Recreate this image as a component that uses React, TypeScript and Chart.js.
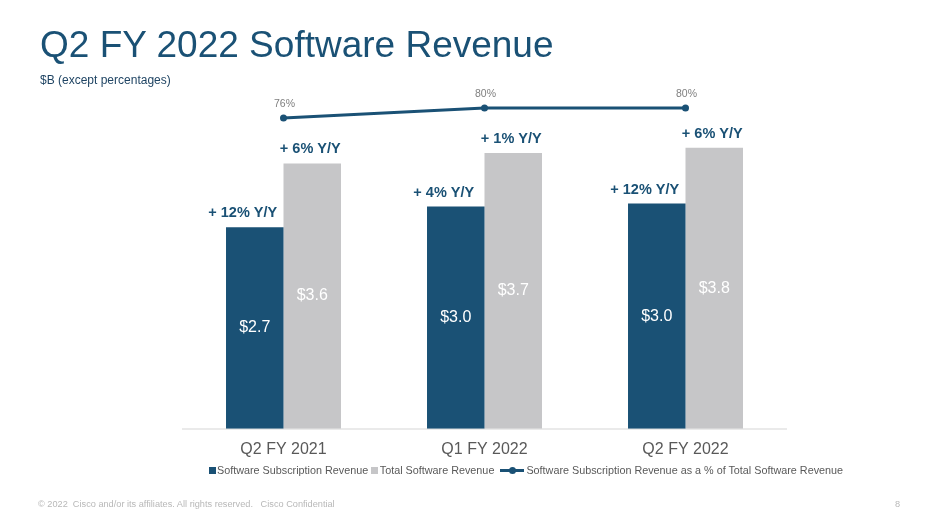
import React, { useEffect, useRef } from "react";
import { Chart, registerables } from "chart.js";

Chart.register(...registerables);

const categories = ["Q2 FY 2021", "Q1 FY 2022", "Q2 FY 2022"];
const subscriptionRevenue = [2.71, 2.99, 3.03];
const totalSoftwareRevenue = [3.57, 3.71, 3.78];
const subscriptionShare = [76, 80, 80];
const subscriptionGrowth = ["+ 12% Y/Y", "+ 4% Y/Y", "+ 12% Y/Y"];
const totalGrowth = ["+ 6% Y/Y", "+ 1% Y/Y", "+ 6% Y/Y"];

const seriesNames = [
  "Software Subscription Revenue",
  "Total Software Revenue",
  "Software Subscription Revenue as a % of Total Software Revenue",
];

const FONT = '"Liberation Sans", Arial, Helvetica, sans-serif';
const DARK = "#1A5175";
const GRAY = "#C6C6C8";
const TEXT_GRAY = "#595959";

const labelPlugin = {
  id: "customLabels",
  afterDatasetsDraw(chart: any) {
    const ctx = chart.ctx;
    ctx.save();
    ctx.textAlign = "center";
    ctx.textBaseline = "middle";
    [1, 2].forEach((di) => {
      const meta = chart.getDatasetMeta(di);
      const values = chart.data.datasets[di].data as number[];
      const growth = di === 1 ? subscriptionGrowth : totalGrowth;
      meta.data.forEach((bar: any, i: number) => {
        ctx.font = `16px ${FONT}`;
        ctx.fillStyle = "#FFFFFF";
        ctx.fillText("$" + values[i].toFixed(1), bar.x, (bar.y + bar.base) / 2);
        ctx.font = `bold 14.5px ${FONT}`;
        ctx.fillStyle = DARK;
        const dx = di === 1 ? -12 : -2;
        ctx.fillText(growth[i], bar.x + dx, bar.y - 14);
      });
    });
    const lineMeta = chart.getDatasetMeta(0);
    lineMeta.data.forEach((pt: any, i: number) => {
      ctx.font = `10.5px ${FONT}`;
      ctx.fillStyle = "#7F7F7F";
      ctx.fillText(subscriptionShare[i] + "%", pt.x + 1, pt.y - 14);
    });
    ctx.restore();
  },
};

export default function App() {
  const canvasRef = useRef<HTMLCanvasElement | null>(null);

  useEffect(() => {
    if (!canvasRef.current) return;
    const chart = new Chart(canvasRef.current, {
      type: "bar",
      data: {
        labels: categories,
        datasets: [
          {
            type: "line",
            label: seriesNames[2],
            data: subscriptionShare,
            yAxisID: "y1",
            borderColor: DARK,
            backgroundColor: DARK,
            borderWidth: 3,
            pointRadius: 3.5,
            pointBackgroundColor: DARK,
            pointBorderWidth: 0,
            tension: 0,
            order: 0,
          } as any,
          {
            type: "bar",
            label: seriesNames[0],
            data: subscriptionRevenue,
            yAxisID: "y",
            backgroundColor: DARK,
            borderWidth: 0,
            categoryPercentage: 0.572,
            barPercentage: 1,
            order: 1,
          },
          {
            type: "bar",
            label: seriesNames[1],
            data: totalSoftwareRevenue,
            yAxisID: "y",
            backgroundColor: GRAY,
            borderWidth: 0,
            categoryPercentage: 0.572,
            barPercentage: 1,
            order: 1,
          },
        ],
      },
      options: {
        responsive: false,
        animation: false,
        devicePixelRatio: 1,
        layout: { padding: { left: 183, right: 157, top: 80, bottom: 0 } },
        plugins: {
          legend: { display: false },
          tooltip: { enabled: false },
          title: { display: false },
        },
        scales: {
          x: {
            type: "category",
            offset: true,
            grid: { display: false, drawTicks: false },
            border: { display: true, color: "#EAEAEA", width: 2 },
            ticks: {
              color: TEXT_GRAY,
              font: { size: 16, family: FONT },
              padding: 11,
              maxRotation: 0,
            },
            afterFit: (scale: any) => {
              scale.height = 99.3;
            },
          },
          y: {
            display: false,
            min: 0,
            max: 4.693,
          },
          y1: {
            display: false,
            min: -48.4,
            max: 91.2,
          },
        },
      },
      plugins: [labelPlugin],
    });
    return () => chart.destroy();
  }, []);

  const legendText: React.CSSProperties = { color: TEXT_GRAY };

  return (
    <div
      style={{
        position: "absolute",
        left: 0,
        top: 0,
        width: 943,
        height: 528,
        background: "#FFFFFF",
        fontFamily: FONT,
        overflow: "hidden",
      }}
    >
      <canvas
        ref={canvasRef}
        width={943}
        height={528}
        style={{ position: "absolute", left: 0, top: 0, width: 943, height: 528 }}
      />
      <div
        style={{
          position: "absolute",
          left: 40,
          top: 26,
          fontSize: 37,
          lineHeight: "37px",
          color: DARK,
          whiteSpace: "nowrap",
        }}
      >
        Q2 FY 2022 Software Revenue
      </div>
      <div
        style={{
          position: "absolute",
          left: 40,
          top: 73,
          fontSize: 12,
          lineHeight: "14px",
          color: "#1F4463",
          whiteSpace: "nowrap",
        }}
      >
        $B (except percentages)
      </div>
      <div
        style={{
          position: "absolute",
          left: 209,
          top: 464,
          height: 12,
          display: "flex",
          alignItems: "center",
          fontSize: 10.8,
          lineHeight: "12px",
          whiteSpace: "nowrap",
        }}
      >
        <span style={{ display: "inline-block", width: 7, height: 7, background: DARK, marginRight: 1 }} />
        <span style={legendText}>{seriesNames[0]}</span>
        <span style={{ display: "inline-block", width: 7, height: 7, background: GRAY, marginLeft: 3, marginRight: 1.5 }} />
        <span style={legendText}>{seriesNames[1]}</span>
        <span
          style={{
            position: "relative",
            display: "inline-block",
            width: 24,
            height: 3,
            background: DARK,
            marginLeft: 6,
            marginRight: 2,
          }}
        >
          <span
            style={{
              position: "absolute",
              left: 8.5,
              top: -2,
              width: 7,
              height: 7,
              borderRadius: "50%",
              background: DARK,
            }}
          />
        </span>
        <span style={legendText}>{seriesNames[2]}</span>
      </div>
      <div
        style={{
          position: "absolute",
          left: 38,
          top: 499,
          fontSize: 9.2,
          lineHeight: "11px",
          color: "#B8B8B8",
          whiteSpace: "pre",
        }}
      >
        {"© 2022  Cisco and/or its affiliates. All rights reserved.   Cisco Confidential"}
      </div>
      <div
        style={{
          position: "absolute",
          left: 895,
          top: 499,
          fontSize: 9.2,
          lineHeight: "11px",
          color: "#B8B8B8",
        }}
      >
        8
      </div>
    </div>
  );
}
